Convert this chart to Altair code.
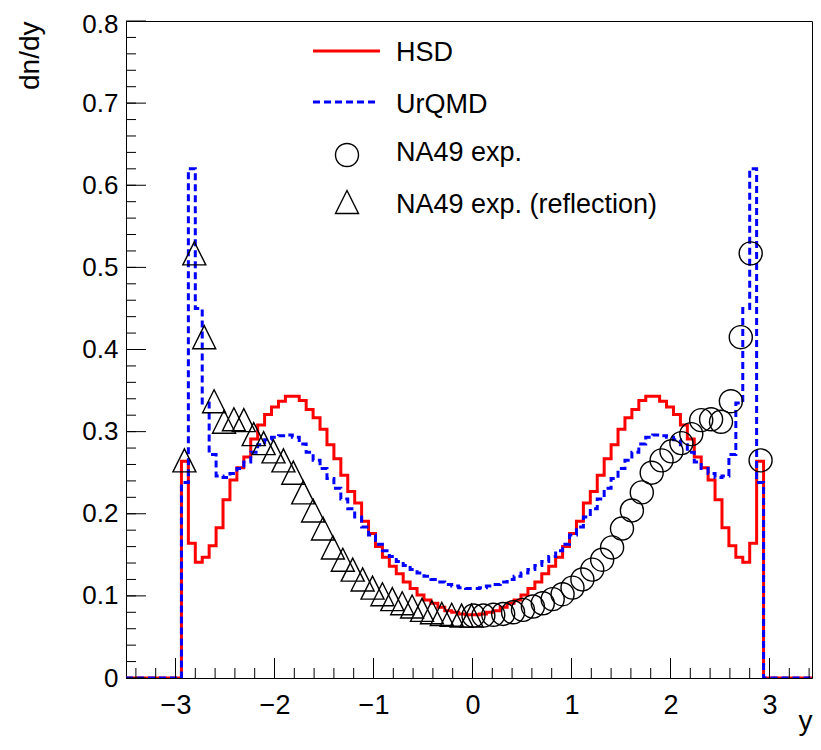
import altair as alt
import pandas as pd

# ---------------- data ----------------
BIN_START = -2.94   # left edge of first non-empty bin
BIN_WIDTH = 0.07

hsd_values = [0.264, 0.164, 0.141, 0.147, 0.161, 0.183, 0.217, 0.241, 0.256, 0.269,
              0.291, 0.308, 0.321, 0.330, 0.337, 0.343, 0.343, 0.338, 0.327, 0.317,
              0.303, 0.284, 0.267, 0.247, 0.227, 0.213, 0.191, 0.176, 0.160, 0.147,
              0.136, 0.127, 0.117, 0.109, 0.101, 0.095, 0.091, 0.086, 0.082, 0.080,
              0.078, 0.077,
              0.077, 0.078, 0.080, 0.082, 0.086, 0.091, 0.095, 0.101, 0.109, 0.117,
              0.127, 0.136, 0.147, 0.160, 0.176, 0.191, 0.213, 0.227, 0.247, 0.267,
              0.284, 0.303, 0.317, 0.327, 0.338, 0.343, 0.343, 0.337, 0.330, 0.321,
              0.308, 0.291, 0.269, 0.256, 0.241, 0.217, 0.183, 0.161, 0.147, 0.141,
              0.164, 0.264]

urqmd_values = [0.238, 0.620, 0.450, 0.335, 0.272, 0.246, 0.244, 0.249, 0.255, 0.263,
                0.275, 0.284, 0.290, 0.293, 0.295, 0.296, 0.293, 0.285, 0.275, 0.265,
                0.255, 0.243, 0.231, 0.218, 0.206, 0.196, 0.184, 0.174, 0.163, 0.155,
                0.148, 0.142, 0.137, 0.132, 0.128, 0.124, 0.120, 0.117, 0.114, 0.112,
                0.110, 0.109,
                0.109, 0.110, 0.112, 0.114, 0.117, 0.120, 0.124, 0.128, 0.132, 0.137,
                0.142, 0.148, 0.155, 0.163, 0.174, 0.184, 0.196, 0.206, 0.218, 0.231,
                0.243, 0.255, 0.265, 0.275, 0.285, 0.293, 0.296, 0.295, 0.293, 0.290,
                0.284, 0.275, 0.263, 0.255, 0.249, 0.244, 0.246, 0.272, 0.335, 0.450,
                0.620, 0.238]

na49_y = [0.01, 0.11, 0.21, 0.31, 0.41, 0.51, 0.61, 0.71, 0.81, 0.91,
          1.01, 1.11, 1.21, 1.31, 1.41, 1.51, 1.61, 1.71, 1.81, 1.91,
          2.01, 2.11, 2.21, 2.31, 2.41, 2.51, 2.61, 2.71, 2.81, 2.91]
na49_dndy = [0.076, 0.076, 0.077, 0.078, 0.080, 0.083, 0.087, 0.091, 0.096, 0.102,
             0.110, 0.120, 0.132, 0.144, 0.159, 0.182, 0.204, 0.226, 0.250, 0.265,
             0.276, 0.286, 0.297, 0.314, 0.315, 0.312, 0.337, 0.415, 0.517, 0.265]

refl_y = [-0.01, -0.11, -0.21, -0.31, -0.41, -0.51, -0.61, -0.71, -0.81, -0.91,
          -1.01, -1.11, -1.21, -1.31, -1.41, -1.51, -1.61, -1.71, -1.81, -1.91,
          -2.01, -2.11, -2.21, -2.31, -2.41, -2.51, -2.61, -2.71, -2.81, -2.91]
refl_dndy = [0.076, 0.076, 0.077, 0.078, 0.080, 0.083, 0.087, 0.091, 0.096, 0.102,
             0.110, 0.120, 0.132, 0.144, 0.159, 0.182, 0.204, 0.226, 0.250, 0.265,
             0.276, 0.286, 0.297, 0.314, 0.315, 0.312, 0.337, 0.415, 0.517, 0.265]

x_major_ticks = [-3, -2, -1, 0, 1, 2, 3]
x_minor_ticks = [round(-3.4 + 0.2 * i, 2) for i in range(35)]
y_major_ticks = [0.0, 0.1, 0.2, 0.3, 0.4, 0.5, 0.6, 0.7, 0.8]
y_minor_ticks = [round(0.02 * i, 2) for i in range(1, 40)]

legend_labels = ["HSD", "UrQMD", "NA49 exp.", "NA49 exp. (reflection)"]

X_MIN, X_MAX = -3.5, 3.5      # histogram range
W, H = 686, 657
PX_PER_UNIT = 99.0
X_VIEW_MAX = X_MIN + W / PX_PER_UNIT   # visible right end (page width limit)
Y_MIN, Y_MAX = 0.0, 0.8


def step_frame(values):
    xs = [X_MIN] + [round(BIN_START + BIN_WIDTH * i, 4) for i in range(len(values) + 1)] + [X_MAX]
    ys = [0.0] + list(values) + [0.0, 0.0]
    return pd.DataFrame({"x": xs, "v": ys, "o": list(range(len(xs)))})


# ---------------- layout ----------------
FONT = "Liberation Sans"

xscale = alt.Scale(domain=[X_MIN, X_VIEW_MAX], nice=False, zero=False)
yscale = alt.Scale(domain=[Y_MIN, Y_MAX], nice=False, zero=False)

x_axis = alt.Axis(values=x_major_ticks, format="d", ticks=False, tickSize=0,
                  grid=False, domain=True, domainColor="black", domainWidth=1,
                  labelFont=FONT, labelFontSize=27, labelColor="black",
                  labelPadding=14, labelBaseline="top",
                  title="y", titleFont=FONT, titleFontSize=28, titleFontWeight="normal",
                  titleColor="black", titleX=W, titleY=51, titleAlign="right",
                  titleAnchor="end", titleBaseline="alphabetic")
y_axis = alt.Axis(values=y_major_ticks, ticks=False, tickSize=0, grid=False,
                  labelExpr="datum.value == 0 ? '0' : format(datum.value, '.1f')",
                  labelOffset={"condition": {"test": "datum.value > 0.79", "value": 3}, "value": 0},
                  domain=True, domainColor="black", domainWidth=1,
                  labelFont=FONT, labelFontSize=26, labelColor="black",
                  labelPadding=8, labelAlign="right", labelBaseline="middle",
                  title="dn/dy", titleFont=FONT, titleFontSize=28, titleFontWeight="normal",
                  titleColor="black", titleAngle=270, titleX=-88, titleY=0,
                  titleAlign="right", titleBaseline="alphabetic", titleAnchor="end")

hsd = alt.Chart(step_frame(hsd_values)).mark_line(
    interpolate="step-after", color="#ff0000", strokeWidth=3, clip=True
).encode(
    x=alt.X("x:Q", scale=xscale, axis=x_axis),
    y=alt.Y("v:Q", scale=yscale, axis=y_axis),
    order="o:Q",
)

urqmd = alt.Chart(step_frame(urqmd_values)).mark_line(
    interpolate="step-after", color="#0000ff", strokeWidth=3, strokeDash=[7, 4], clip=True
).encode(
    x=alt.X("x:Q", scale=xscale),
    y=alt.Y("v:Q", scale=yscale),
    order="o:Q",
)

TRI = "M0,-1L-1,1L1,1Z"
MSIZE = 530

circles = alt.Chart(pd.DataFrame({"x": na49_y, "v": na49_dndy})).mark_point(
    shape="circle", size=MSIZE, filled=False, color="black", strokeWidth=1.4, opacity=1
).encode(x=alt.X("x:Q", scale=xscale), y=alt.Y("v:Q", scale=yscale))

triangles = alt.Chart(pd.DataFrame({"x": refl_y, "v": refl_dndy})).mark_point(
    shape=TRI, size=MSIZE, filled=False, color="black", strokeWidth=1.4, opacity=1
).encode(x=alt.X("x:Q", scale=xscale), y=alt.Y("v:Q", scale=yscale))


# inside ticks
def xticks(vals, length):
    return alt.Chart(pd.DataFrame({"x": vals})).mark_rule(color="black", strokeWidth=1).encode(
        x=alt.X("x:Q", scale=xscale), y=alt.value(H), y2=alt.value(H - length))


def yticks(vals, length):
    return alt.Chart(pd.DataFrame({"v": vals})).mark_rule(color="black", strokeWidth=1).encode(
        y=alt.Y("v:Q", scale=yscale), x=alt.value(0), x2=alt.value(length))


ticks = [xticks(x_minor_ticks, 10), xticks(x_major_ticks, 20),
         yticks(y_minor_ticks, 10), yticks(y_major_ticks, 20)]

# legend
one = pd.DataFrame({"k": [0]})
LX0, LX1, LMID, LTX = 187, 254, 221, 270
leg = [
    alt.Chart(one).mark_rule(color="#ff0000", strokeWidth=3).encode(
        x=alt.value(LX0), x2=alt.value(LX1), y=alt.value(30)),
    alt.Chart(one).mark_rule(color="#0000ff", strokeWidth=3, strokeDash=[7, 4]).encode(
        x=alt.value(LX0), x2=alt.value(LX1 - 3), y=alt.value(81)),
    alt.Chart(one).mark_point(shape="circle", size=MSIZE, filled=False, color="black",
                              strokeWidth=1.4, opacity=1).encode(
        x=alt.value(LMID), y=alt.value(134)),
    alt.Chart(one).mark_point(shape=TRI, size=MSIZE, filled=False, color="black",
                              strokeWidth=1.4, opacity=1).encode(
        x=alt.value(LMID), y=alt.value(181)),
]
for lab, base in zip(legend_labels, [40, 92, 140, 192]):
    leg.append(alt.Chart(pd.DataFrame({"label": [lab]})).mark_text(
        font=FONT, fontSize=27, color="black", align="left", baseline="alphabetic"
    ).encode(text="label:N", x=alt.value(LTX), y=alt.value(base)))

chart = alt.layer(hsd, urqmd, *ticks, circles, triangles, *leg).properties(
    width=W, height=H,
    padding={"left": 118, "top": 13, "right": 1, "bottom": 58},
    autosize=alt.AutoSizeParams(type="none"),
    background="white",
).configure_view(stroke="black", strokeWidth=1)

chart.save("out.html", embed_options={"renderer": "svg", "actions": False})
